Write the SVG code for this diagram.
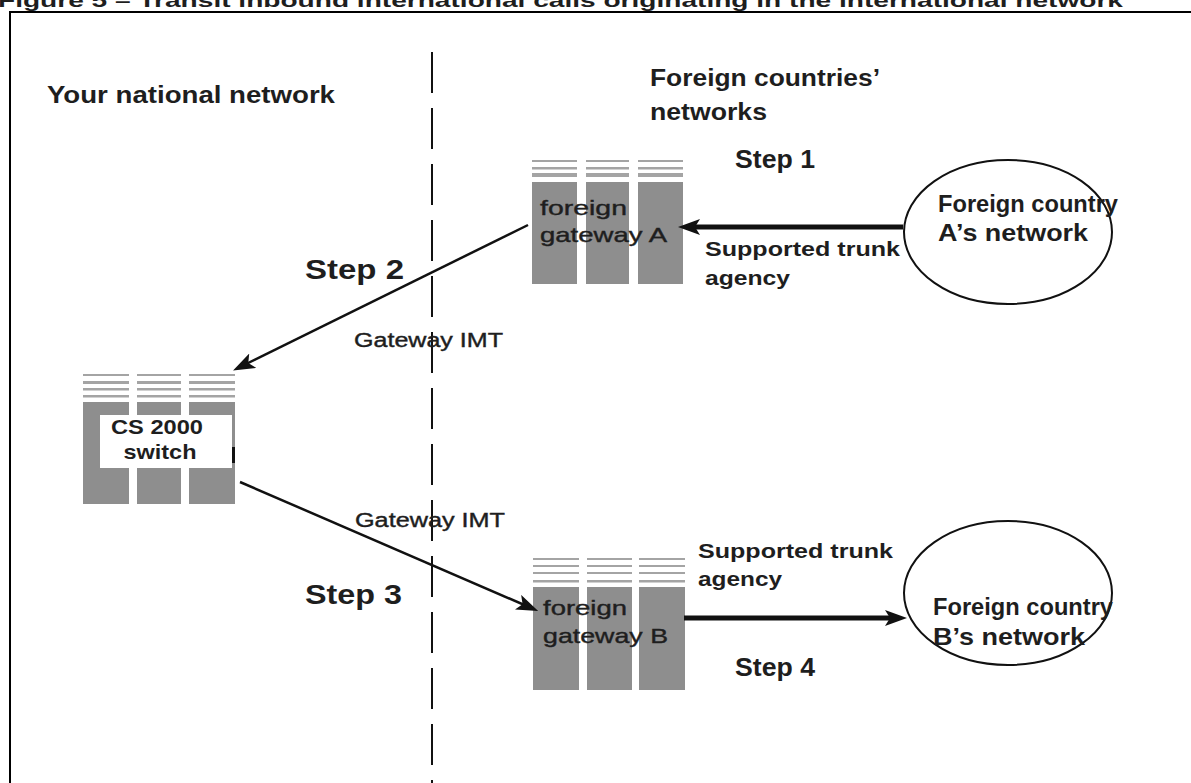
<svg xmlns="http://www.w3.org/2000/svg" width="1191" height="783" viewBox="0 0 1191 783">
<style>
.t{font-family:"Liberation Sans",Arial,sans-serif;font-weight:bold;fill:#1e1e1e}
.n{font-family:"Liberation Sans",Arial,sans-serif;font-weight:normal;fill:#1e1e1e;stroke:#1e1e1e;stroke-width:0.4}
.body{fill:#8e8e8e}
.ln{fill:#a4a4a4}
.conn{stroke:#111;fill:none}
</style>
<defs>
<marker id="ah" viewBox="0 0 22 16" markerUnits="userSpaceOnUse" markerWidth="22" markerHeight="16" refX="12" refY="8" orient="auto">
<path d="M0,0 L22,8 L0,16 L5,8 z" fill="#111"/>
</marker>
</defs>
<rect width="1191" height="783" fill="#fff"/>
<text class="t" x="-2" y="7" font-size="19" textLength="1125" lengthAdjust="spacingAndGlyphs">Figure 5 – Transit inbound international calls originating in the international network</text>
<rect x="10" y="12" width="1200" height="800" fill="none" stroke="#000" stroke-width="2"/>
<line x1="432" y1="52" x2="432" y2="783" stroke="#111" stroke-width="2" stroke-dasharray="41 15"/>

<g id="labels">
<text class="t" x="47" y="103" font-size="23" textLength="288" lengthAdjust="spacingAndGlyphs">Your national network</text>
<text class="t" x="650" y="86" font-size="23" textLength="230" lengthAdjust="spacingAndGlyphs">Foreign countries’</text>
<text class="t" x="650" y="120" font-size="23" textLength="117" lengthAdjust="spacingAndGlyphs">networks</text>
</g>

<g id="gatewayA">
<rect class="ln" x="532" y="160" width="45" height="2"/><rect class="ln" x="586" y="160" width="43" height="2"/><rect class="ln" x="638" y="160" width="45" height="2"/>
<rect class="ln" x="532" y="167" width="45" height="2.5"/><rect class="ln" x="586" y="167" width="43" height="2.5"/><rect class="ln" x="638" y="167" width="45" height="2.5"/>
<rect class="ln" x="532" y="173" width="45" height="4"/><rect class="ln" x="586" y="173" width="43" height="4"/><rect class="ln" x="638" y="173" width="45" height="4"/>
<rect class="body" x="532" y="182" width="45" height="102"/><rect class="body" x="586" y="182" width="43" height="102"/><rect class="body" x="638" y="182" width="45" height="102"/>
<text class="n" x="540" y="215" font-size="21" textLength="87" lengthAdjust="spacingAndGlyphs">foreign</text>
<text class="n" x="540" y="242" font-size="21" textLength="127" lengthAdjust="spacingAndGlyphs">gateway A</text>
</g>

<g id="cs2000">
<rect class="ln" x="83" y="374" width="46" height="2"/><rect class="ln" x="137" y="374" width="44" height="2"/><rect class="ln" x="189" y="374" width="46" height="2"/>
<rect class="ln" x="83" y="381" width="46" height="3"/><rect class="ln" x="137" y="381" width="44" height="3"/><rect class="ln" x="189" y="381" width="46" height="3"/>
<rect class="ln" x="83" y="388" width="46" height="2.5"/><rect class="ln" x="137" y="388" width="44" height="2.5"/><rect class="ln" x="189" y="388" width="46" height="2.5"/>
<rect class="ln" x="83" y="395" width="46" height="2.5"/><rect class="ln" x="137" y="395" width="44" height="2.5"/><rect class="ln" x="189" y="395" width="46" height="2.5"/>
<rect class="body" x="83" y="402" width="46" height="102"/><rect class="body" x="137" y="402" width="44" height="102"/><rect class="body" x="189" y="402" width="46" height="102"/>
<rect x="231" y="447" width="4" height="16" fill="#111"/>
<rect x="100" y="415" width="132" height="53" fill="#fff"/>
<text class="t" x="157" y="434" font-size="21" text-anchor="middle" fill="#000" textLength="92" lengthAdjust="spacingAndGlyphs">CS 2000</text>
<text class="t" x="160" y="459" font-size="21" text-anchor="middle" fill="#000" textLength="73" lengthAdjust="spacingAndGlyphs">switch</text>
</g>

<g id="gatewayB">
<rect class="ln" x="533" y="558" width="46" height="2"/><rect class="ln" x="587" y="558" width="45" height="2"/><rect class="ln" x="639" y="558" width="46" height="2"/>
<rect class="ln" x="533" y="565" width="46" height="2"/><rect class="ln" x="587" y="565" width="45" height="2"/><rect class="ln" x="639" y="565" width="46" height="2"/>
<rect class="ln" x="533" y="572" width="46" height="2"/><rect class="ln" x="587" y="572" width="45" height="2"/><rect class="ln" x="639" y="572" width="46" height="2"/>
<rect class="ln" x="533" y="580" width="46" height="2.5"/><rect class="ln" x="587" y="580" width="45" height="2.5"/><rect class="ln" x="639" y="580" width="46" height="2.5"/>
<rect class="body" x="533" y="587" width="46" height="103"/><rect class="body" x="587" y="587" width="45" height="103"/><rect class="body" x="639" y="587" width="46" height="103"/>
<text class="n" x="543" y="615" font-size="21" textLength="84" lengthAdjust="spacingAndGlyphs">foreign</text>
<text class="n" x="543" y="643" font-size="21" textLength="125" lengthAdjust="spacingAndGlyphs">gateway B</text>
</g>

<g id="countryA">
<ellipse cx="1008" cy="232" rx="104" ry="72" fill="none" stroke="#111" stroke-width="2"/>
<text class="t" x="938" y="212" font-size="24" textLength="180" lengthAdjust="spacingAndGlyphs">Foreign country</text>
<text class="t" x="938" y="241" font-size="24" textLength="150" lengthAdjust="spacingAndGlyphs">A’s network</text>
</g>

<g id="countryB">
<ellipse cx="1008" cy="593" rx="104" ry="72" fill="none" stroke="#111" stroke-width="2"/>
<text class="t" x="933" y="615" font-size="24" textLength="180" lengthAdjust="spacingAndGlyphs">Foreign country</text>
<text class="t" x="933" y="645" font-size="24" textLength="152" lengthAdjust="spacingAndGlyphs">B’s network</text>
</g>

<g id="connectors">
<line class="conn" x1="903" y1="227" x2="688" y2="227" stroke-width="5" marker-end="url(#ah)"/>
<line class="conn" x1="528" y1="225" x2="242" y2="366" stroke-width="2.5" marker-end="url(#ah)"/>
<line class="conn" x1="240" y1="482" x2="529" y2="607" stroke-width="2.5" marker-end="url(#ah)"/>
<line class="conn" x1="684" y1="618" x2="897" y2="618" stroke-width="5" marker-end="url(#ah)"/>
<text class="t" x="735" y="168" font-size="26" textLength="80" lengthAdjust="spacingAndGlyphs">Step 1</text>
<text class="t" x="705" y="256" font-size="20" textLength="195" lengthAdjust="spacingAndGlyphs">Supported trunk</text>
<text class="t" x="705" y="285" font-size="20" textLength="85" lengthAdjust="spacingAndGlyphs">agency</text>
<text class="t" x="305" y="279" font-size="27" textLength="99" lengthAdjust="spacingAndGlyphs">Step 2</text>
<text class="n" x="354" y="347" font-size="20" textLength="149" lengthAdjust="spacingAndGlyphs">Gateway IMT</text>
<text class="n" x="355" y="527" font-size="20" textLength="150" lengthAdjust="spacingAndGlyphs">Gateway IMT</text>
<text class="t" x="305" y="604" font-size="27" textLength="97" lengthAdjust="spacingAndGlyphs">Step 3</text>
<text class="t" x="698" y="558" font-size="20" textLength="195" lengthAdjust="spacingAndGlyphs">Supported trunk</text>
<text class="t" x="698" y="586" font-size="20" textLength="84" lengthAdjust="spacingAndGlyphs">agency</text>
<text class="t" x="735" y="676" font-size="26" textLength="80" lengthAdjust="spacingAndGlyphs">Step 4</text>
</g>
</svg>
